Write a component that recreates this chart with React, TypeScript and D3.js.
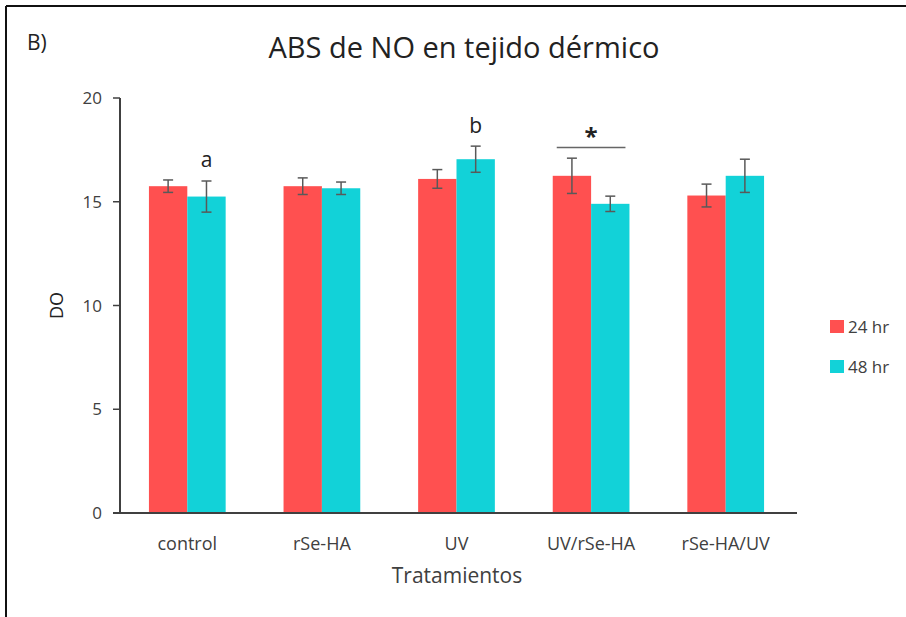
import React from "react";
import * as d3 from "d3";

const categories = ["control", "rSe-HA", "UV", "UV/rSe-HA", "rSe-HA/UV"];
const seriesNames = ["24 hr", "48 hr"];
const values24 = [15.75, 15.75, 16.1, 16.25, 15.3];
const values48 = [15.25, 15.65, 17.05, 14.9, 16.25];
const err24 = [0.3, 0.4, 0.45, 0.85, 0.55];
const err48 = [0.75, 0.3, 0.63, 0.37, 0.8];
const yTicks = [0, 5, 10, 15, 20];
const colors = ["#FF5050", "#12D2D8"];

const W = 906, H = 617;
const FONT = "'Open Sans', Lato, sans-serif";

export default function App() {
  const x0 = d3.scaleBand<string>().domain(categories).range([120, 793]).paddingInner(0.43).paddingOuter(0.215);
  const x1 = d3.scaleBand<string>().domain(seriesNames).range([0, x0.bandwidth()]);
  const y = d3.scaleLinear().domain([0, 20]).range([513, 98]);
  const series = [
    { name: seriesNames[0], vals: values24, errs: err24, color: colors[0] },
    { name: seriesNames[1], vals: values48, errs: err48, color: colors[1] },
  ];
  const errColor = "#595959";
  const axisColor = "#404040";
  const textColor = "#404040";

  const uvStar = categories[3];
  const starLeft = (x0(uvStar) as number) + 4;
  const starRight = (x0(uvStar) as number) + x0.bandwidth() - 4;

  return (
    <svg width={W} height={H} style={{ position: "absolute", left: 0, top: 0, background: "#fff" }}>
      <rect x={0} y={0} width={W} height={H} fill="#fff" />
      {/* frame */}
      <line x1={6} y1={6} x2={W} y2={6} stroke="#111" strokeWidth={2} />
      <line x1={6} y1={6} x2={6} y2={H} stroke="#111" strokeWidth={2} />

      <text x={27} y={50} fontFamily={FONT} fontSize={21} fill="#222">B)</text>
      <text x={464} y={58} textAnchor="middle" fontFamily={FONT} fontSize={29} fill="#222">ABS de NO en tejido dérmico</text>

      {/* bars */}
      {series.map((s) =>
        categories.map((c, i) => {
          const bx = (x0(c) as number) + (x1(s.name) as number);
          return (
            <rect key={s.name + c} x={bx} y={y(s.vals[i])} width={x1.bandwidth()} height={y(0) - y(s.vals[i])} fill={s.color} />
          );
        })
      )}
      {/* error bars */}
      {series.map((s) =>
        categories.map((c, i) => {
          const cx = (x0(c) as number) + (x1(s.name) as number) + x1.bandwidth() / 2;
          const top = y(s.vals[i] + s.errs[i]);
          const bot = y(s.vals[i] - s.errs[i]);
          return (
            <g key={"e" + s.name + c} stroke={errColor} strokeWidth={1.5}>
              <line x1={cx} x2={cx} y1={top} y2={bot} />
              <line x1={cx - 5} x2={cx + 5} y1={top} y2={top} />
              <line x1={cx - 5} x2={cx + 5} y1={bot} y2={bot} />
            </g>
          );
        })
      )}

      {/* y axis */}
      <line x1={120} x2={120} y1={y(20)} y2={y(0)} stroke={axisColor} strokeWidth={2} />
      {yTicks.map((t) => (
        <g key={t}>
          <line x1={113} x2={120} y1={y(t)} y2={y(t)} stroke={axisColor} strokeWidth={1.5} />
          <text x={102} y={y(t) + 6} textAnchor="end" fontFamily={FONT} fontSize={17} fill={textColor}>{t}</text>
        </g>
      ))}
      <text transform={`translate(63,${y(10)}) rotate(-90)`} textAnchor="middle" fontFamily={FONT} fontSize={18} fill="#222">DO</text>

      {/* x axis */}
      <line x1={113} x2={797} y1={y(0)} y2={y(0)} stroke={axisColor} strokeWidth={2} />
      {categories.map((c) => (
        <text key={c} x={(x0(c) as number) + x0.bandwidth() / 2} y={550} textAnchor="middle" fontFamily={FONT} fontSize={18} fill={textColor}>{c}</text>
      ))}
      <text x={457} y={583} textAnchor="middle" fontFamily={FONT} fontSize={21} fill={textColor}>Tratamientos</text>

      {/* annotations */}
      <text x={(x0(categories[0]) as number) + (x1(seriesNames[1]) as number) + x1.bandwidth() / 2} y={167} textAnchor="middle" fontFamily={FONT} fontSize={21} fill="#222">a</text>
      <text x={(x0(categories[2]) as number) + (x1(seriesNames[1]) as number) + x1.bandwidth() / 2} y={133} textAnchor="middle" fontFamily={FONT} fontSize={21} fill="#222">b</text>
      <line x1={starLeft} x2={starRight} y1={147.5} y2={147.5} stroke="#666" strokeWidth={1.5} />
      <text x={(starLeft + starRight) / 2} y={145} textAnchor="middle" fontFamily={FONT} fontSize={24} fontWeight="bold" fill="#222">*</text>

      {/* legend */}
      {series.map((s, i) => (
        <g key={"l" + s.name}>
          <rect x={830} y={320 + i * 40} width={14} height={13} fill={s.color} />
          <text x={848} y={333 + i * 40} fontFamily={FONT} fontSize={17} fill={textColor}>{s.name}</text>
        </g>
      ))}
    </svg>
  );
}
